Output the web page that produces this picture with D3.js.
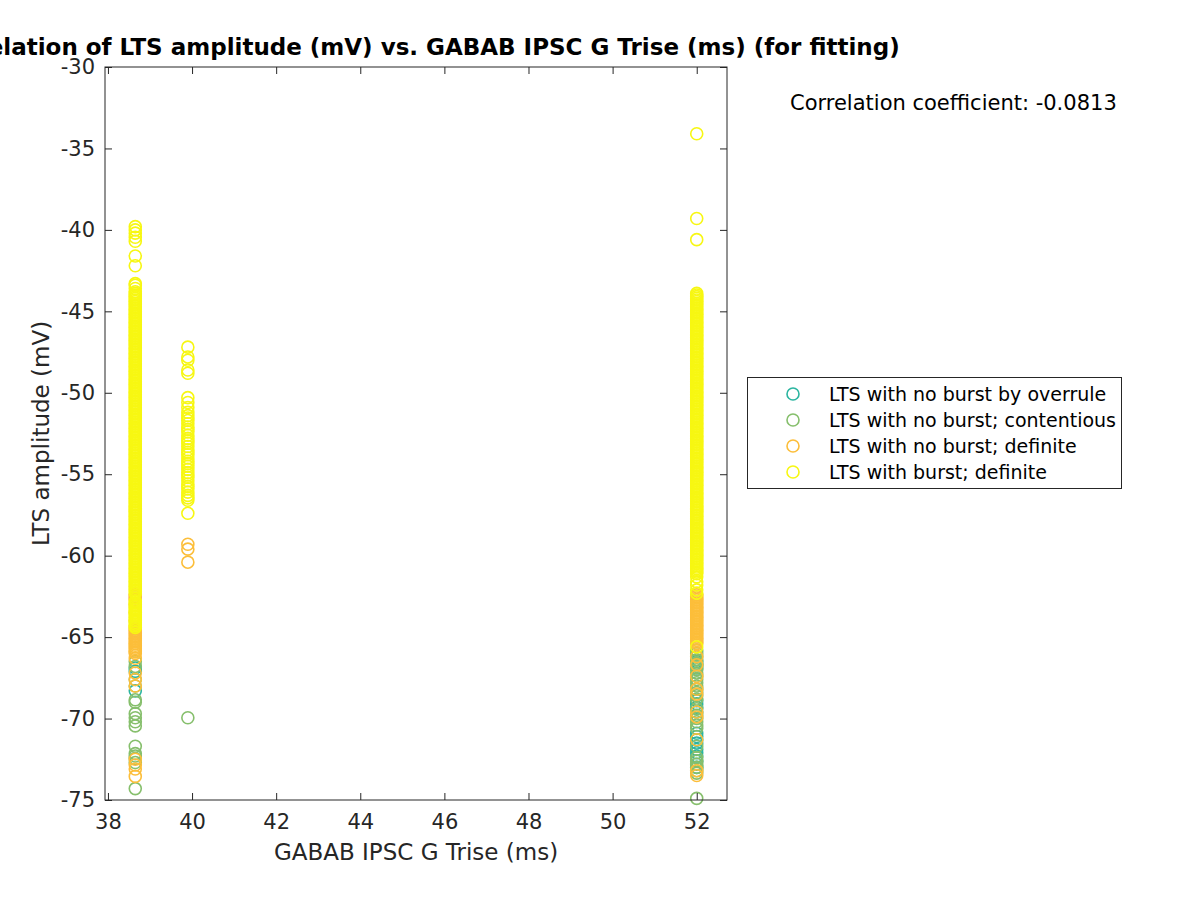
<!DOCTYPE html>
<html>
<head>
<meta charset="utf-8">
<script src="https://cdn.jsdelivr.net/npm/d3@7"></script>
<style>
  html, body { margin: 0; padding: 0; background: #fff; }
  svg { display: block; font-family: "DejaVu Sans", sans-serif; }
</style>
</head>
<body>
<svg id="chart" width="1200" height="900"></svg>
<script>
// ---------------- DATA ----------------
const titleText = "Correlation of LTS amplitude (mV) vs. GABAB IPSC G Trise (ms) (for fitting)";
const xLabel = "GABAB IPSC G Trise (ms)";
const yLabel = "LTS amplitude (mV)";
const corrText = "Correlation coefficient: -0.0813";

const xTicks = [38, 40, 42, 44, 46, 48, 50, 52];
const yTicks = [-30, -35, -40, -45, -50, -55, -60, -65, -70, -75];

// the three Trise values that occur in the data
const triseValues = [38.65, 39.9, 52.0];

const seriesNames = [
  "LTS with no burst by overrule",
  "LTS with no burst; contentious",
  "LTS with no burst; definite",
  "LTS with burst; definite"
];
const seriesColors = ["#2bb5a0", "#86bf6c", "#fcbe3a", "#f7f712"];

// LTS amplitudes (mV) per Trise value: [38.65, 39.9, 52.0]
const noBurstOverrule = [
  [-66.9, -67.1, -68.3],
  [],
  [-66.5, -66.7, -66.9, -68.9, -69.1, -69.3, -69.6, -70.9, -71.1, -71.3, -71.5, -71.9, -72.1,
   -72.3, -72.6, -73.0]
];
const noBurstContentious = [
  [-66.5, -66.8, -67.6, -68.0, -68.85, -69.0, -69.7, -69.95, -70.2, -70.45, -71.7, -72.15, -72.3,
   -72.45, -72.7, -74.3],
  [-69.95],
  [-65.8, -66.0, -66.2, -66.4, -66.6, -66.8, -67.0, -67.2, -67.4, -67.6, -67.8, -68.0, -68.2,
   -68.4, -68.6, -68.8, -69.4, -69.8, -70.0, -70.2, -70.4, -70.6, -71.7, -72.4, -72.6, -72.8,
   -73.0, -73.2, -73.35, -74.9]
];
const noBurstDefinite = [
  [-62.4, -62.5, -62.6, -62.7, -63.0, -63.5, -64.0, -64.4, -64.5, -64.6, -64.7, -64.8, -64.9,
   -65.0, -65.1, -65.2, -65.3, -65.4, -65.5, -65.6, -65.7, -65.8, -65.9, -66.0, -66.3, -67.2,
   -67.6, -68.0, -72.5, -72.85, -73.1, -73.55],
  [-59.3, -59.6, -60.4],
  [-62.4, -62.5, -62.6, -62.7, -62.8, -62.9, -63.0, -63.1, -63.2, -63.3, -63.4, -63.5, -63.6,
   -63.7, -63.8, -63.9, -64.0, -64.1, -64.2, -64.3, -64.4, -64.5, -64.6, -64.7, -64.8, -64.9,
   -65.0, -65.1, -65.2, -65.3, -65.4, -66.2, -66.7, -67.4, -68.2, -68.5, -69.6, -69.9, -71.3,
   -73.2, -73.5]
];
const burstDefinite = [
  [-39.8, -40.0, -40.2, -40.45, -40.7, -41.6, -42.2, -43.3, -43.4, -43.6, -43.8, -43.9,
   -44.0, -44.1, -44.2, -44.3, -44.4, -44.5, -44.6, -44.7, -44.8, -44.9,
   -45.0, -45.1, -45.2, -45.3, -45.4, -45.5, -45.6, -45.7, -45.8, -45.9,
   -46.0, -46.1, -46.2, -46.3, -46.4, -46.5, -46.6, -46.7, -46.8, -46.9,
   -47.0, -47.1, -47.2, -47.3, -47.4, -47.5, -47.6, -47.7, -47.8, -47.9,
   -48.0, -48.1, -48.2, -48.3, -48.4, -48.5, -48.6, -48.7, -48.8, -48.9,
   -49.0, -49.1, -49.2, -49.3, -49.4, -49.5, -49.6, -49.7, -49.8, -49.9,
   -50.0, -50.1, -50.2, -50.3, -50.4, -50.5, -50.6, -50.7, -50.8, -50.9,
   -51.0, -51.1, -51.2, -51.3, -51.4, -51.5, -51.6, -51.7, -51.8, -51.9,
   -52.0, -52.1, -52.2, -52.3, -52.4, -52.5, -52.6, -52.7, -52.8, -52.9,
   -53.0, -53.1, -53.2, -53.3, -53.4, -53.5, -53.6, -53.7, -53.8, -53.9,
   -54.0, -54.1, -54.2, -54.3, -54.4, -54.5, -54.6, -54.7, -54.8, -54.9,
   -55.0, -55.1, -55.2, -55.3, -55.4, -55.5, -55.6, -55.7, -55.8, -55.9,
   -56.0, -56.1, -56.2, -56.3, -56.4, -56.5, -56.6, -56.7, -56.8, -56.9,
   -57.0, -57.1, -57.2, -57.3, -57.4, -57.5, -57.6, -57.7, -57.8, -57.9,
   -58.0, -58.1, -58.2, -58.3, -58.4, -58.5, -58.6, -58.7, -58.8, -58.9,
   -59.0, -59.1, -59.2, -59.3, -59.4, -59.5, -59.6, -59.7, -59.8, -59.9,
   -60.0, -60.1, -60.2, -60.3, -60.4, -60.5, -60.6, -60.7, -60.8, -60.9,
   -61.0, -61.1, -61.2, -61.3, -61.4, -61.5, -61.6, -61.7, -61.8, -61.9,
   -62.0, -62.1, -62.2, -62.3,
   -62.8, -62.9, -63.0, -63.1, -63.2, -63.3, -63.4, -63.5, -63.6, -63.7, -63.8, -63.9,
   -64.0, -64.1, -64.2, -64.3, -64.4],
  [-47.2, -47.8, -48.0, -48.6, -48.8, -50.3, -50.6, -50.9, -51.2, -51.4, -51.55, -51.7, -51.9,
   -52.1, -52.25, -52.4, -52.6, -52.8, -52.95, -53.1, -53.3, -53.5, -53.65, -53.8, -54.0, -54.2,
   -54.35, -54.5, -54.7, -54.9, -55.05, -55.2, -55.4, -55.6, -55.75, -55.9, -56.1, -56.3, -56.45,
   -56.6, -57.4],
  [-34.1, -39.3, -40.6, -43.9,
   -44.0, -44.1, -44.2, -44.3, -44.4, -44.5, -44.6, -44.7, -44.8, -44.9,
   -45.0, -45.1, -45.2, -45.3, -45.4, -45.5, -45.6, -45.7, -45.8, -45.9,
   -46.0, -46.1, -46.2, -46.3, -46.4, -46.5, -46.6, -46.7, -46.8, -46.9,
   -47.0, -47.1, -47.2, -47.3, -47.4, -47.5, -47.6, -47.7, -47.8, -47.9,
   -48.0, -48.1, -48.2, -48.3, -48.4, -48.5, -48.6, -48.7, -48.8, -48.9,
   -49.0, -49.1, -49.2, -49.3, -49.4, -49.5, -49.6, -49.7, -49.8, -49.9,
   -50.0, -50.1, -50.2, -50.3, -50.4, -50.5, -50.6, -50.7, -50.8, -50.9,
   -51.0, -51.1, -51.2, -51.3, -51.4, -51.5, -51.6, -51.7, -51.8, -51.9,
   -52.0, -52.1, -52.2, -52.3, -52.4, -52.5, -52.6, -52.7, -52.8, -52.9,
   -53.0, -53.1, -53.2, -53.3, -53.4, -53.5, -53.6, -53.7, -53.8, -53.9,
   -54.0, -54.1, -54.2, -54.3, -54.4, -54.5, -54.6, -54.7, -54.8, -54.9,
   -55.0, -55.1, -55.2, -55.3, -55.4, -55.5, -55.6, -55.7, -55.8, -55.9,
   -56.0, -56.1, -56.2, -56.3, -56.4, -56.5, -56.6, -56.7, -56.8, -56.9,
   -57.0, -57.1, -57.2, -57.3, -57.4, -57.5, -57.6, -57.7, -57.8, -57.9,
   -58.0, -58.1, -58.2, -58.3, -58.4, -58.5, -58.6, -58.7, -58.8, -58.9,
   -59.0, -59.1, -59.2, -59.3, -59.4, -59.5, -59.6, -59.7, -59.8, -59.9,
   -60.0, -60.1, -60.2, -60.3, -60.4, -60.5, -60.6, -60.7, -60.8, -60.9,
   -61.0, -61.1, -61.3, -61.6, -61.8, -62.1, -62.3, -65.6]
];

const allSeries = [noBurstOverrule, noBurstContentious, noBurstDefinite, burstDefinite];

// ---------------- CHART ----------------
const svg = d3.select("#chart");
const plot = { left: 105, right: 727, top: 67, bottom: 800 };

const x = d3.scaleLinear().domain([37.93, 52.72]).range([plot.left, plot.right]);
const y = d3.scaleLinear().domain([-75, -30]).range([plot.bottom, plot.top]);

const tickLen = 7;
const textColor = "#262626";

// markers (drawn in series order, burst on top)
allSeries.forEach((series, si) => {
  const pts = [];
  series.forEach((vals, ci) => vals.forEach(v => pts.push({ x: triseValues[ci], y: v })));
  svg.append("g")
    .selectAll("circle")
    .data(pts)
    .join("circle")
    .attr("cx", d => x(d.x))
    .attr("cy", d => y(d.y))
    .attr("r", 6)
    .attr("fill", "none")
    .attr("stroke", seriesColors[si])
    .attr("stroke-width", 1.6);
});

// axes
const axisFont = "21px";
const gx = svg.append("g").attr("transform", `translate(0,${plot.bottom})`)
  .call(d3.axisBottom(x).tickValues(xTicks).tickFormat(d3.format("d"))
    .tickSizeInner(-tickLen).tickSizeOuter(0).tickPadding(14));
const gxTop = svg.append("g").attr("transform", `translate(0,${plot.top})`)
  .call(d3.axisTop(x).tickValues(xTicks).tickFormat("").tickSizeInner(-tickLen).tickSizeOuter(0));
const gy = svg.append("g").attr("transform", `translate(${plot.left},0)`)
  .call(d3.axisLeft(y).tickValues(yTicks).tickFormat(d3.format("d"))
    .tickSizeInner(-tickLen).tickSizeOuter(0).tickPadding(10));
const gyRight = svg.append("g").attr("transform", `translate(${plot.right},0)`)
  .call(d3.axisRight(y).tickValues(yTicks).tickFormat("").tickSizeInner(-tickLen).tickSizeOuter(0));

[gx, gxTop, gy, gyRight].forEach(g => {
  g.select(".domain").remove();
  g.selectAll(".tick line").attr("stroke", textColor).attr("stroke-width", 1);
  g.selectAll(".tick text").attr("fill", textColor).style("font-size", axisFont)
    .style("font-family", "'DejaVu Sans', sans-serif");
});
gy.selectAll(".tick text").text(d => d < 0 ? "-" + Math.abs(d) : d);

// box
svg.append("rect")
  .attr("x", plot.left).attr("y", plot.top)
  .attr("width", plot.right - plot.left).attr("height", plot.bottom - plot.top)
  .attr("fill", "none").attr("stroke", textColor).attr("stroke-width", 1);

// axis labels
svg.append("text")
  .attr("x", (plot.left + plot.right) / 2).attr("y", 860)
  .attr("text-anchor", "middle").attr("fill", textColor)
  .style("font-size", "23px").text(xLabel);
svg.append("text")
  .attr("transform", `translate(49,${(plot.top + plot.bottom) / 2}) rotate(-90)`)
  .attr("text-anchor", "middle").attr("fill", textColor)
  .style("font-size", "23px").text(yLabel);

// title
svg.append("text")
  .attr("x", (plot.left + plot.right) / 2).attr("y", 55)
  .attr("text-anchor", "middle").attr("fill", "#000")
  .style("font-size", "23px").style("font-weight", "bold").text(titleText);

// correlation text
svg.append("text")
  .attr("x", 790).attr("y", 110)
  .attr("fill", "#000").style("font-size", "21px").text(corrText);

// legend
const legend = svg.append("g");
legend.append("rect")
  .attr("x", 747.5).attr("y", 377.5).attr("width", 374).attr("height", 111)
  .attr("fill", "#fff").attr("stroke", textColor).attr("stroke-width", 1);
seriesNames.forEach((name, i) => {
  const cy = 394 + i * 26;
  legend.append("circle").attr("cx", 793).attr("cy", cy).attr("r", 6)
    .attr("fill", "none").attr("stroke", seriesColors[i]).attr("stroke-width", 1.6);
  legend.append("text").attr("x", 829).attr("y", cy).attr("dy", "0.35em")
    .attr("fill", "#000").style("font-size", "19px").text(name);
});
</script>
</body>
</html>
